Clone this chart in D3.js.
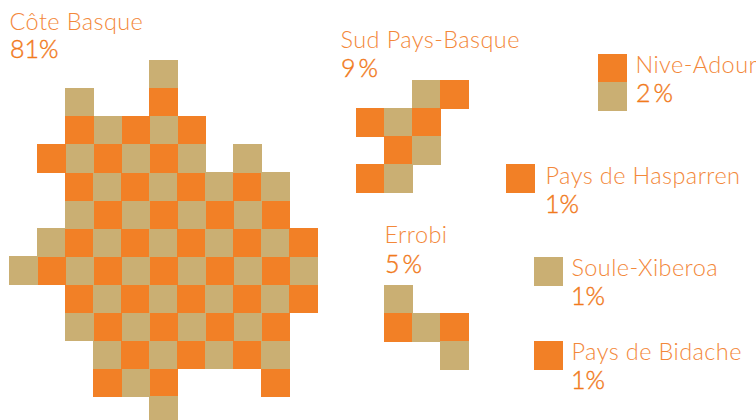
<!DOCTYPE html>
<html>
<head>
<meta charset="utf-8">
<script src="https://cdn.jsdelivr.net/npm/d3@7/dist/d3.min.js"></script>
<style>
html,body{margin:0;padding:0;background:#fff}
svg{display:block}
.name{font-family:Lato,sans-serif;font-weight:300;font-size:23.5px;letter-spacing:.4px;fill:#f3883a}
.pct{font-family:Lato,sans-serif;font-weight:300;font-size:25px;fill:#f17a1c;stroke:#f17a1c;stroke-width:.4px}
</style>
</head>
<body>
<svg id="c" width="756" height="420"></svg>
<script>
const territories = ["Côte Basque","Sud Pays-Basque","Nive-Adour","Pays de Hasparren","Errobi","Soule-Xiberoa","Pays de Bidache"];
const shares = [81,9,2,1,5,1,1];
// O = orange dwelling square, T = tan dwelling square, "." = empty
const coteBasqueCells = [
  ".....T.....",
  "..T..O.....",
  "..OTOTO....",
  ".OTOTOT.T..",
  "..OTOTOTOT.",
  "..TOTOTOTO.",
  ".TOTOTOTOTO",
  "TOTOTOTOTOT",
  "..OTOTOTOTO",
  "..TOTOTOTO.",
  "...TOTOTOT.",
  "...OTO...O.",
  ".....T....."
];
const sudCells = ["..TO","OTO.",".OT.","OT.."];
const niveCells = ["O","T"];
const hasparrenCells = ["O"];
const errobiCells = ["T..","OTO","..T"];
const souleCells = ["T"];
const bidacheCells = ["O"];
const allCells = [coteBasqueCells,sudCells,niveCells,hasparrenCells,errobiCells,souleCells,bidacheCells];

const gridLeft = [9,356,598,506,384,534,534];
const gridTop = [60,80,54,164,285,257,341];
const labelX = [9.5,340.5,635.5,545.5,384.5,571.5,571.5];
const labelY = [29.5,48,73,184,243,276,360];
const pctX = [10,341,636,545,385,571,571];
const pctY = [58,77,102,213,273,305,389];
const pctGap = [0,3,3,0,3,0,0];

// paint order of the rows of the big cluster (1px overlaps in the reference)
const rowOrder = [0,1,2,11,10,9,8,7,6,5,4,3,12];
const leftFirstRows = [4,6,8,10];

const step = 28, size = 29;
const color = d3.scaleOrdinal().domain(["O","T"]).range(["#f28026","#caaf73"]);
const svg = d3.select("#c");

allCells.forEach((rows,i)=>{
  const x = d3.scaleLinear().domain([0,1]).range([gridLeft[i],gridLeft[i]+step]);
  const y = d3.scaleLinear().domain([0,1]).range([gridTop[i],gridTop[i]+step]);
  const order = i===0 ? rowOrder : d3.range(rows.length);
  const cells = [];
  order.forEach(r=>{
    let cols = d3.range(rows[r].length);
    if(i===0 && !leftFirstRows.includes(r)) cols = cols.reverse();
    cols.forEach(c=>{ if(rows[r][c]!==".") cells.push({r,c,k:rows[r][c]}); });
  });
  svg.append("g").selectAll("rect").data(cells).join("rect")
    .attr("x",d=>x(d.c)).attr("y",d=>y(d.r))
    .attr("width",size).attr("height",size)
    .attr("fill",d=>color(d.k));
});

territories.forEach((t,i)=>{
  svg.append("text").attr("class","name").attr("x",labelX[i]).attr("y",labelY[i]).text(t);
  const p = svg.append("text").attr("class","pct").attr("x",pctX[i]).attr("y",pctY[i]);
  p.append("tspan").text(shares[i]);
  p.append("tspan").attr("dx",pctGap[i]).text("%");
});
</script>
</body>
</html>
